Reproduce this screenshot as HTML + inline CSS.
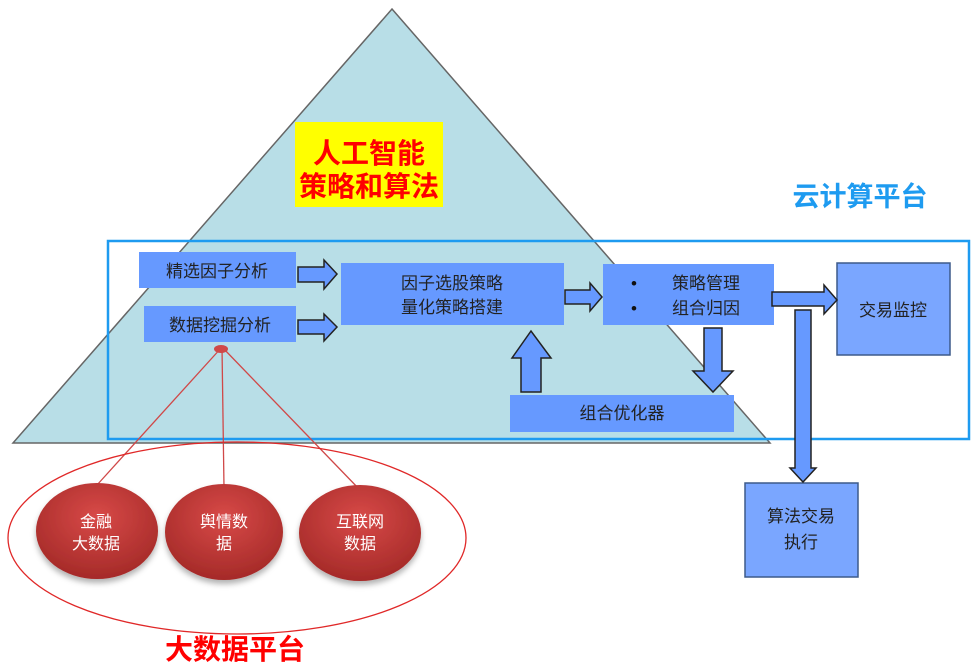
<!DOCTYPE html>
<html><head><meta charset="utf-8"><style>
html,body{margin:0;padding:0;background:#fff}
svg{display:block}
text{font-family:"Liberation Sans","Noto Sans CJK SC",sans-serif}
</style></head><body>
<svg width="975" height="669" viewBox="0 0 975 669" xmlns="http://www.w3.org/2000/svg">
<defs>
<radialGradient id="rg" cx="50%" cy="35%" r="65%">
<stop offset="0" stop-color="#d84a48"/><stop offset="1" stop-color="#a52a28"/>
</radialGradient>
<filter id="sh" x="-20%" y="-20%" width="140%" height="150%"><feDropShadow dx="0" dy="4" stdDeviation="3" flood-color="#000" flood-opacity="0.3"/></filter>
</defs>
<polygon points="392,9 770,443 13,443" fill="#b8dee7" stroke="#666" stroke-width="1.5"/>
<rect x="295" y="122" width="148" height="85" fill="#ffff00"/>
<text x="369" y="163" font-size="28" font-weight="bold" fill="#ff0000" text-anchor="middle">人工智能</text>
<text x="369" y="196" font-size="28" font-weight="bold" fill="#ff0000" text-anchor="middle">策略和算法</text>
<text x="860" y="206" font-size="27" font-weight="bold" fill="#1e9bf0" text-anchor="middle">云计算平台</text>
<rect x="108" y="241" width="861" height="198" fill="none" stroke="#1e9bf0" stroke-width="2.5"/>

<rect x="139" y="252" width="157" height="36" fill="#6699ff"/>
<text x="217" y="277" font-size="17" fill="#222" text-anchor="middle">精选因子分析</text>
<rect x="144" y="306" width="152" height="36" fill="#6699ff"/>
<text x="220" y="331" font-size="17" fill="#222" text-anchor="middle">数据挖掘分析</text>
<rect x="341" y="263" width="223" height="62" fill="#6699ff"/>
<text x="452" y="289" font-size="17" fill="#222" text-anchor="middle">因子选股策略</text>
<text x="452" y="313" font-size="17" fill="#222" text-anchor="middle">量化策略搭建</text>
<rect x="603" y="264" width="171" height="61" fill="#6699ff"/>
<text x="634" y="289" font-size="17" fill="#111" text-anchor="middle">•</text>
<text x="634" y="314" font-size="17" fill="#111" text-anchor="middle">•</text>
<text x="706" y="289" font-size="17" fill="#222" text-anchor="middle">策略管理</text>
<text x="706" y="314" font-size="17" fill="#222" text-anchor="middle">组合归因</text>
<rect x="510" y="395" width="224" height="37" fill="#6699ff"/>
<text x="622" y="419" font-size="17" fill="#222" text-anchor="middle">组合优化器</text>
<rect x="837" y="263" width="113" height="92" fill="#7aa6ff" stroke="#3d5a8a" stroke-width="1.5"/>
<text x="893" y="316" font-size="17" fill="#222" text-anchor="middle">交易监控</text>
<rect x="745" y="483" width="113" height="94" fill="#7aa6ff" stroke="#3d5a8a" stroke-width="1.5"/>
<text x="801" y="522" font-size="17" fill="#222" text-anchor="middle">算法交易</text>
<text x="801" y="548" font-size="17" fill="#222" text-anchor="middle">执行</text>

<g fill="#6699ff" stroke="#222" stroke-width="1.5">
<polygon points="298,267 324,267 324,260 337,274 324,289 324,282 298,282"/>
<polygon points="298,320 324,320 324,314 337,327 324,341 324,334 298,334"/>
<polygon points="565,290 590,290 590,283 602,297 590,311 590,304 565,304"/>
<polygon points="772,292 824,292 824,285 837,300 824,314 824,306 772,306"/>
<polygon points="704,328 722,328 722,371 733,371 713,392 693,371 704,371"/>
<polygon points="521,392 541,392 541,358 551,358 531,331 512,358 521,358"/>
<polygon points="795,310 811,310 811,468 816,468 803,482 790,468 795,468"/>
</g>

<g stroke="#d04848" stroke-width="1.3" fill="none">
<line x1="222" y1="347" x2="97" y2="485"/>
<line x1="222" y1="347" x2="224" y2="488"/>
<line x1="222" y1="347" x2="360" y2="490"/>
</g>
<ellipse cx="221" cy="349" rx="7" ry="4" fill="#d04848"/>
<ellipse cx="237" cy="538" rx="229" ry="96" fill="none" stroke="#e02828" stroke-width="1.3"/>
<g filter="url(#sh)">
<ellipse cx="97" cy="531" rx="61" ry="48" fill="url(#rg)"/>
<ellipse cx="224" cy="532" rx="59" ry="48" fill="url(#rg)"/>
<ellipse cx="360" cy="533" rx="61" ry="48" fill="url(#rg)"/>
</g>
<g font-size="16" fill="#fff" text-anchor="middle">
<text x="96" y="527">金融</text><text x="96" y="549">大数据</text>
<text x="224" y="527">舆情数</text><text x="224" y="549">据</text>
<text x="360" y="527">互联网</text><text x="360" y="549">数据</text>
</g>
<text x="235" y="659" font-size="28" font-weight="bold" fill="#ff0000" text-anchor="middle">大数据平台</text>
</svg>
</body></html>
